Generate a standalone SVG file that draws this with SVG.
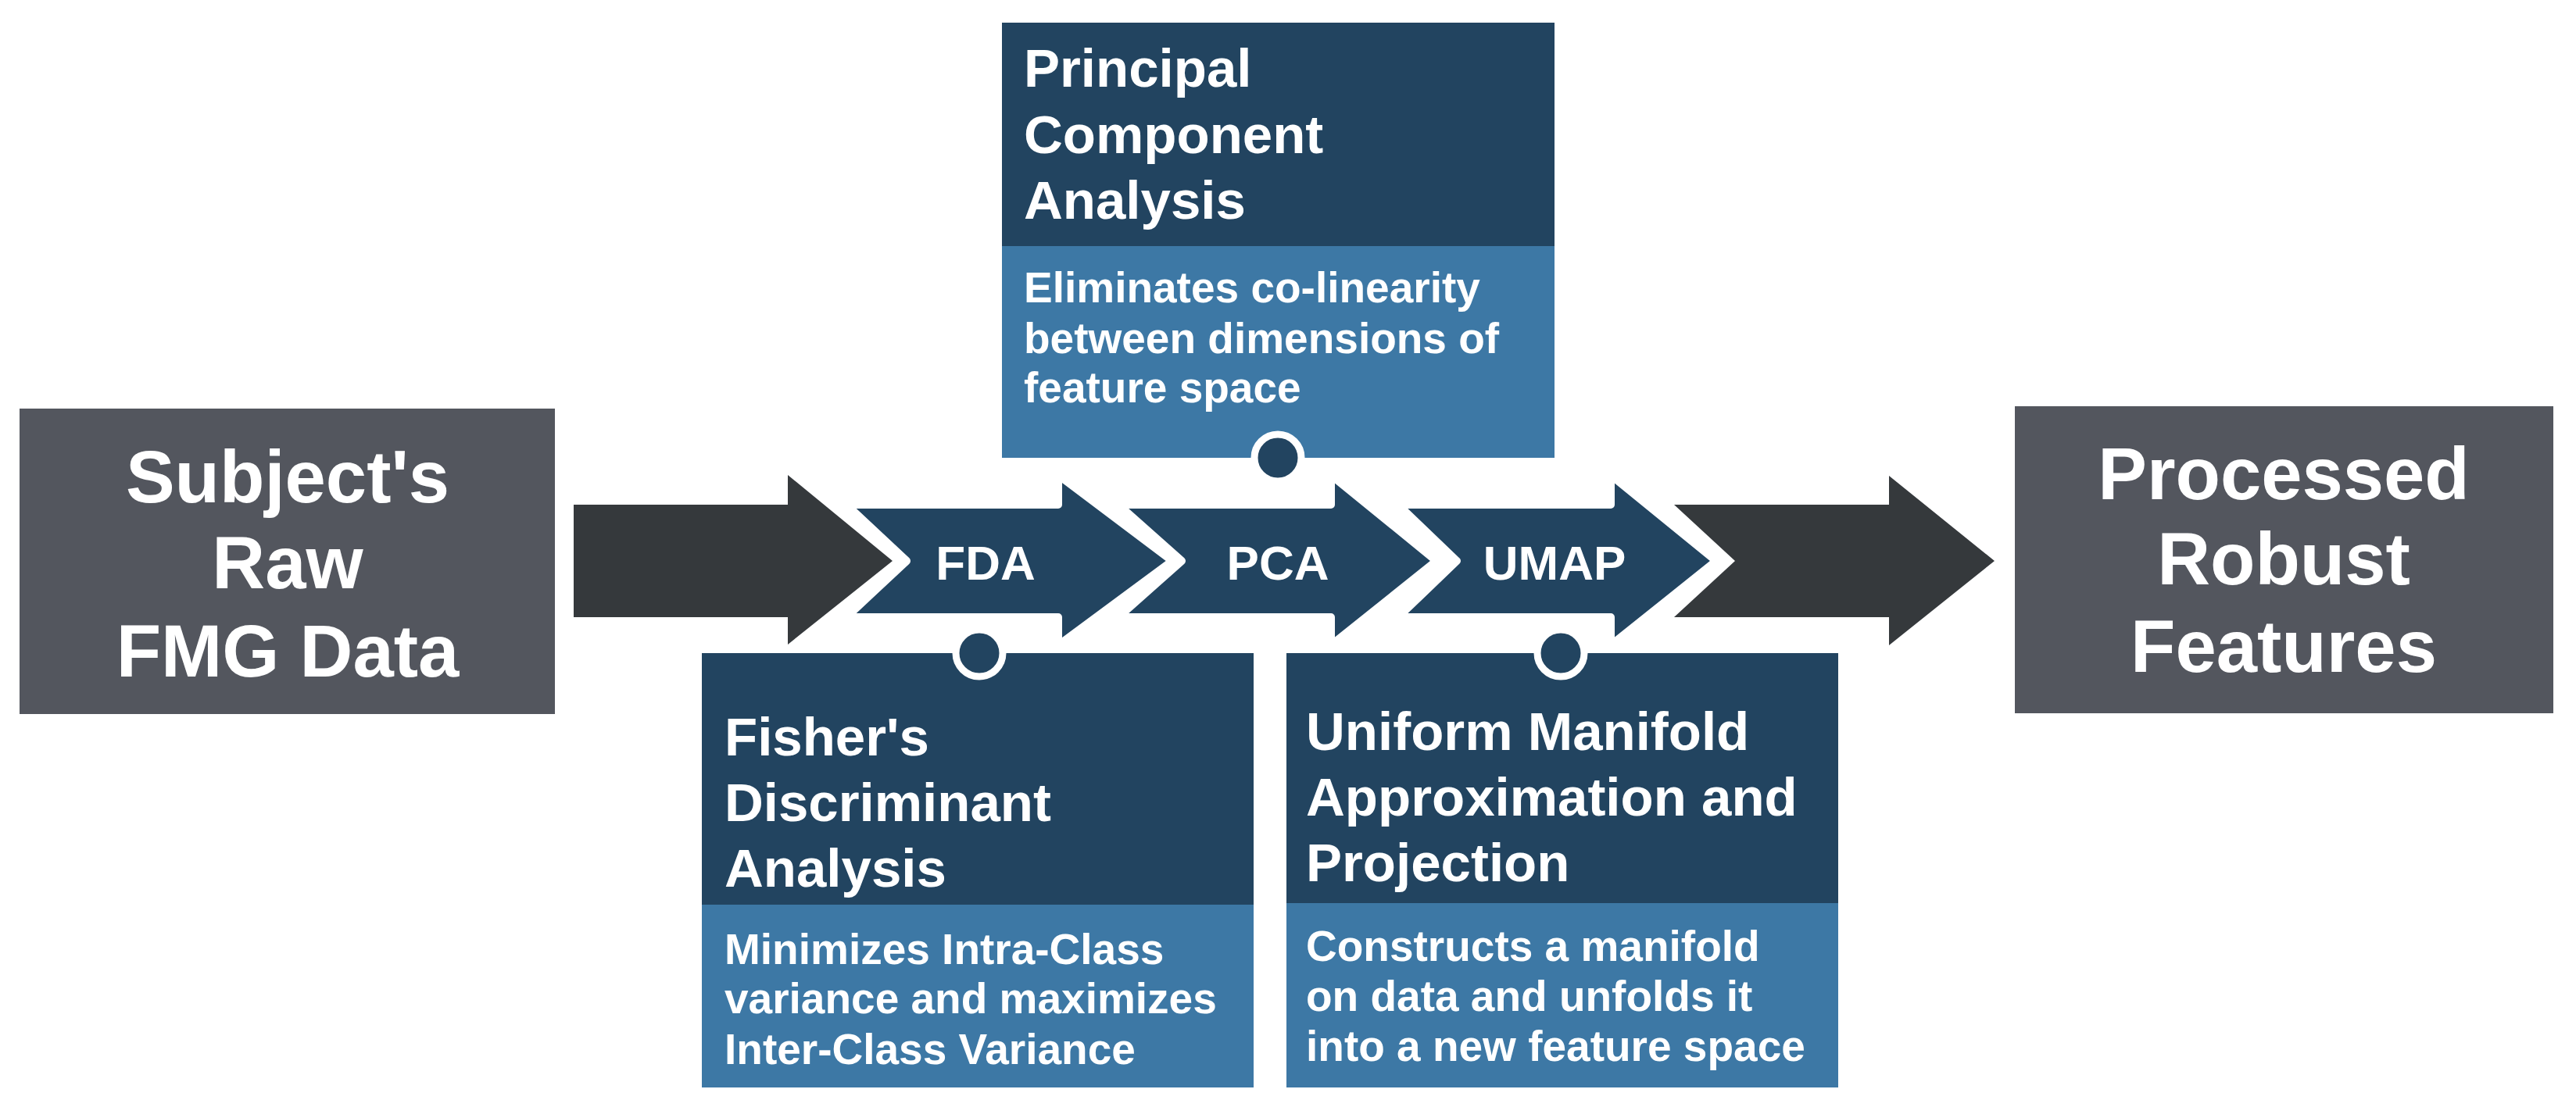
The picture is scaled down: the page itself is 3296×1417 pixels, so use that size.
<svg xmlns="http://www.w3.org/2000/svg" width="3296" height="1417" viewBox="0 0 3296 1417">
<style>
text{font-family:"Liberation Sans",Arial,sans-serif;font-weight:bold;fill:#fff}
.big{font-size:94px;text-anchor:middle}
.ttl{font-size:69px}
.dsc{font-size:55px}
.lbl{font-size:62px;text-anchor:middle}
.navy{fill:#224460}
.light{fill:#3d78a5}
.gray{fill:#53565e}
.dark{fill:#35393c}
.chev{fill:#224460;stroke:#fff;stroke-width:10;stroke-linejoin:round}
.dot{fill:#224460;stroke:#fff;stroke-width:9}
</style>
<rect width="3296" height="1417" fill="#fff"/>
<g id="connectors">
<polygon class="dark" points="734,646 1008,646 1008,608 1142,718 1008,825 1008,790 734,790"/>
<polygon class="chev" points="1083,646 1354,646 1354,608 1500,718 1354,826 1354,790 1083,790 1160,718"/>
<polygon class="chev" points="1431,646 1703,646 1703,608 1838,718 1703,826 1703,790 1431,790 1512,718"/>
<polygon class="chev" points="1789,646 2061,646 2061,608 2196,718 2061,826 2061,790 1789,790 1864,718"/>
<polygon class="dark" points="2142,646 2417,646 2417,609 2552,718 2417,826 2417,790 2142,790 2220,718"/>
<text class="lbl" x="1261" y="742">FDA</text>
<text class="lbl" x="1635" y="742">PCA</text>
<text class="lbl" x="1989" y="742">UMAP</text>
</g>
<g id="raw">
<rect class="gray" x="25" y="523" width="685" height="391"/>
<text class="big" x="368" y="643">Subject's</text>
<text class="big" x="368" y="753">Raw</text>
<text class="big" x="368" y="866">FMG Data</text>
</g>
<g id="processed">
<rect class="gray" x="2578" y="520" width="689" height="393"/>
<text class="big" x="2922" y="639">Processed</text>
<text class="big" x="2922" y="748">Robust</text>
<text class="big" x="2922" y="860">Features</text>
</g>
<g id="pca">
<rect class="navy" x="1282" y="29" width="707" height="286"/>
<rect class="light" x="1282" y="315" width="707" height="271"/>
<text class="ttl" x="1310" y="111">Principal</text>
<text class="ttl" x="1310" y="196">Component</text>
<text class="ttl" x="1310" y="280">Analysis</text>
<text class="dsc" x="1310" y="387">Eliminates co-linearity</text>
<text class="dsc" x="1310" y="452">between dimensions of</text>
<text class="dsc" x="1310" y="515">feature space</text>
<circle class="dot" cx="1635" cy="586" r="30"/>
</g>
<g id="fda">
<rect class="navy" x="898" y="836" width="706" height="322"/>
<rect class="light" x="898" y="1158" width="706" height="234"/>
<text class="ttl" x="927" y="967">Fisher's</text>
<text class="ttl" x="927" y="1051">Discriminant</text>
<text class="ttl" x="927" y="1135">Analysis</text>
<text class="dsc" x="927" y="1234">Minimizes Intra-Class</text>
<text class="dsc" x="927" y="1297">variance and maximizes</text>
<text class="dsc" x="927" y="1362">Inter-Class Variance</text>
<circle class="dot" cx="1253" cy="836" r="30"/>
</g>
<g id="umap">
<rect class="navy" x="1646" y="836" width="706" height="320"/>
<rect class="light" x="1646" y="1156" width="706" height="236"/>
<text class="ttl" x="1671" y="960">Uniform Manifold</text>
<text class="ttl" x="1671" y="1044">Approximation and</text>
<text class="ttl" x="1671" y="1128">Projection</text>
<text class="dsc" x="1671" y="1230">Constructs a manifold</text>
<text class="dsc" x="1671" y="1294">on data and unfolds it</text>
<text class="dsc" x="1671" y="1358">into a new feature space</text>
<circle class="dot" cx="1997" cy="836" r="30"/>
</g>
</svg>
